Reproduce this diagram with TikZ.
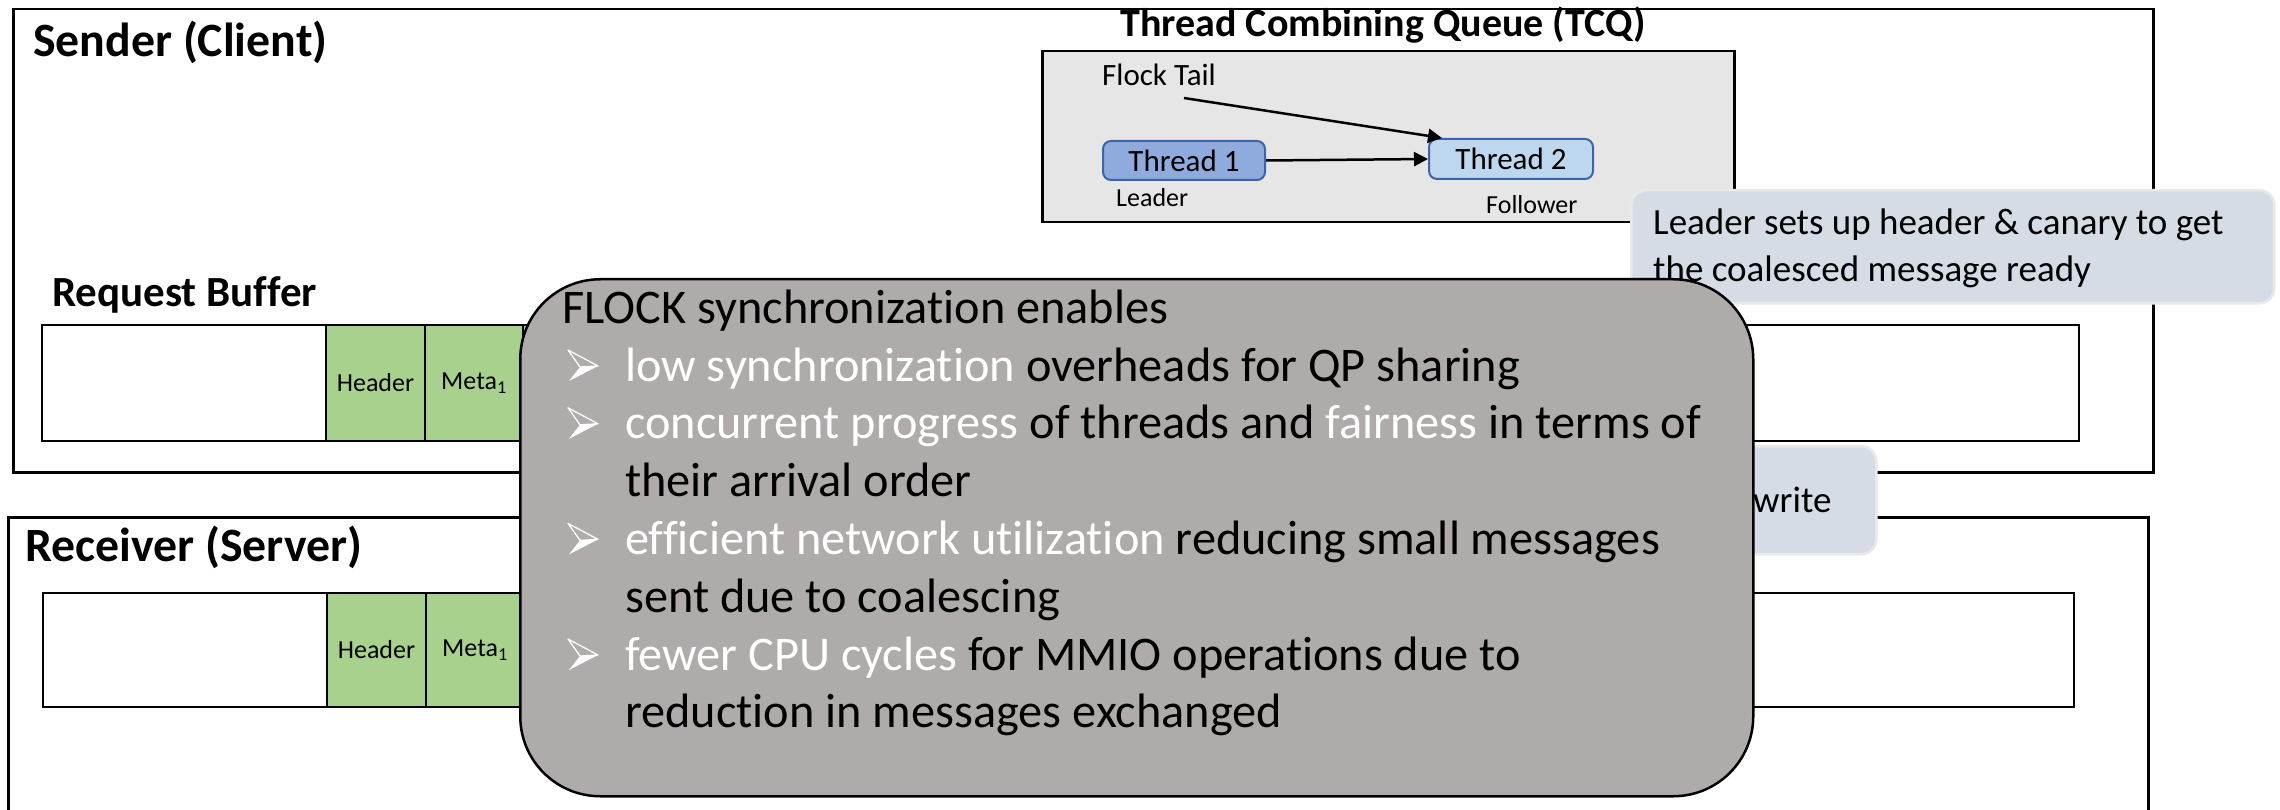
\documentclass[tikz,border=0pt]{standalone}
\usepackage{fontspec}
\setmainfont{Carlito}[Ligatures=NoCommon]
\usetikzlibrary{arrows.meta,calc}

\definecolor{flockgray}{HTML}{AFABAB}
\definecolor{tcqfill}{HTML}{E7E6E6}
\definecolor{cellgreen}{HTML}{A9D18E}
\definecolor{notefill}{HTML}{D6DCE5}
\definecolor{noteedge}{HTML}{E9E9EA}
\definecolor{tonefill}{HTML}{8FAADC}
\definecolor{ttwofill}{HTML}{BDD7EE}
\definecolor{threadedge}{HTML}{3B64AD}

\newcommand{\fsz}[1]{\fontsize{#1}{#1}\selectfont}

\tikzset{
  outerbox/.style={draw=black, line width=2.5pt, inner sep=0, anchor=north west},
  cell/.style={draw=black, line width=2pt, inner sep=0, anchor=north west, font=\fsz{26}},
  greencell/.style={cell, fill=cellgreen},
  thread/.style={draw=threadedge, line width=2pt, rounded corners=8pt, inner sep=0,
                 anchor=north west, font=\fsz{31}},
  note/.style={fill=notefill, draw=noteedge, line width=2.5pt, rounded corners=15pt,
               inner sep=0, anchor=north west},
  flockbox/.style={fill=flockgray, draw=black, line width=2.5pt, rounded corners=80pt,
                   inner sep=0, anchor=north west},
  label/.style={anchor=base west, inner sep=0},
  title/.style={label, font=\bfseries\fsz{47.8}},
  ovline/.style={label, font=\fsz{48.3}},
  link/.style={line width=2.5pt, -{Triangle[length=14pt,width=14pt]}},
  pics/flockbullet/.style={code={
    \draw[white, line width=1.3pt, line join=round] (0,-31) -- (30,-15) -- (12,-14) -- cycle;
    \fill[white] (12,-14) -- (30,-15) -- (1,0) -- cycle;
  }}
}

\begin{document}
\begin{tikzpicture}[x=1pt,y=-1pt]
\useasboundingbox (0,0) rectangle (2280,810);
\clip (0,0) rectangle (2280,810);

% ---------------- sender side ----------------
\node[outerbox, minimum width=2140, minimum height=463] (sender) at (12,8) {};
\node[title] (sendertitle) at (33,57) {Sender (Client)};

% thread combining queue
\node[anchor=base, inner sep=0, font=\bfseries\fsz{40}] (tcqtitle) at (1383,37) {Thread Combining Queue (TCQ)};
\node[outerbox, line width=2.5pt, fill=tcqfill, minimum width=692, minimum height=171] (tcq) at (1041,50) {};
\node[label, font=\fsz{31}] (flocktail) at (1102,86) {Flock Tail};
\node[thread, fill=tonefill, minimum width=162, minimum height=39] (t1) at (1102,140) {Thread 1};
\node[thread, fill=ttwofill, minimum width=164, minimum height=40] (t2) at (1428,138) {Thread 2};
\node[label, font=\fsz{26}] (leader) at (1116,207) {Leader};
\node[label, font=\fsz{26}] (follower) at (1486,214) {Follower};
\coordinate (tailstart) at (1184,98);
\draw[link] (tailstart) -- ($(t2.north west)+(14,0)$);
\draw[link] (t1.east) -- (t2.west);

% request buffer
\node[label, font=\bfseries\fsz{43}] (reqtitle) at (52,306) {Request Buffer};
\node[cell, minimum width=2037, minimum height=116] (sbuf) at (41,324) {};
\node[cell, minimum width=284, minimum height=116] (sfree) at (41,324) {};
\node[greencell, minimum width=99, minimum height=116] (shead) at (325,324) {Header};
\node[greencell, minimum width=98, minimum height=116] (smeta) at (424,324) {Meta\textsubscript{1}};
\node[greencell, minimum width=98, minimum height=116] (smetb) at (522,324) {};

% ---------------- receiver side ----------------
\node[outerbox, minimum width=2140, minimum height=320] (receiver) at (7,516) {};
\node[title] (recvtitle) at (25,561) {Receiver (Server)};
\node[cell, minimum width=2031, minimum height=114] (rbuf) at (42,592) {};
\node[cell, minimum width=284, minimum height=114] (rfree) at (42,592) {};
\node[greencell, minimum width=99, minimum height=114] (rhead) at (326,592) {Header};
\node[greencell, minimum width=98, minimum height=114] (rmeta) at (425,592) {Meta\textsubscript{1}};
\node[greencell, minimum width=98, minimum height=114] (rmetb) at (523,592) {};

% ---------------- notes ----------------
\node[note, minimum width=643, minimum height=113] (noteleader) at (1630,189) {};
\node[label, font=\fsz{37}] (noteleadera) at (1653,235) {Leader sets up header \& canary to get};
\node[label, font=\fsz{37}] (noteleaderb) at (1653,282) {the coalesced message ready};

\node[note, minimum width=185, minimum height=108] (notewrite) at (1690,445) {};
\node[label, font=\fsz{37}] (notewritetext) at (1753,512) {write};

% ---------------- FLOCK summary ----------------
\node[flockbox, minimum width=1233, minimum height=517] (flock) at (519,278) {};
\node[ovline] (la) at (562,323) {FLOCK synchronization enables};
\pic at (568,381) {flockbullet};
\node[ovline] (lb) at (625,381) {\textcolor{white}{low synchronization} overheads for QP sharing};
\pic at (568,438.8) {flockbullet};
\node[ovline] (lc) at (625,438.8) {\textcolor{white}{concurrent progress} of threads and \textcolor{white}{fairness} in terms of};
\node[ovline] (ld) at (625,496.6) {their arrival order};
\pic at (568,554.4) {flockbullet};
\node[ovline] (le) at (625,554.4) {\textcolor{white}{efficient network utilization} reducing small messages};
\node[ovline] (lf) at (625,612.2) {sent due to coalescing};
\pic at (568,670) {flockbullet};
\node[ovline] (lg) at (625,670) {\textcolor{white}{fewer CPU cycles} for MMIO operations due to};
\node[ovline] (lh) at (625,727.8) {reduction in messages exchanged};
\end{tikzpicture}
\end{document}
